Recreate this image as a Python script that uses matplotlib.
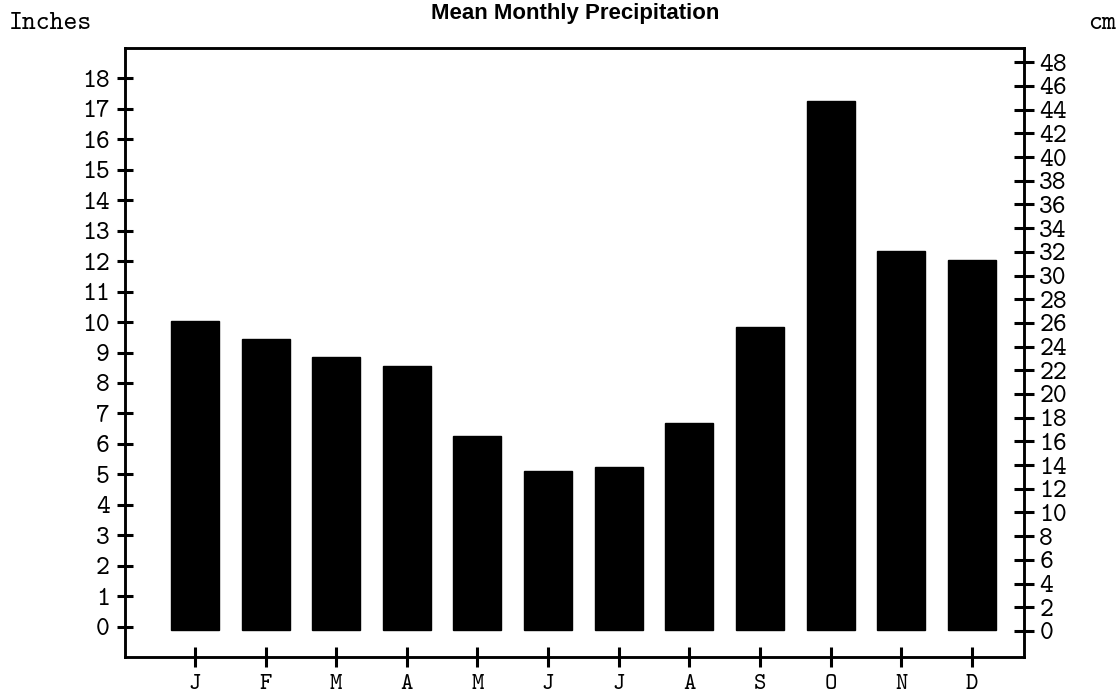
import matplotlib.pyplot as plt
import numpy as np

# monthly precipitation (inches)
months = ['J', 'F', 'M', 'A', 'M', 'J', 'J', 'A', 'S', 'O', 'N', 'D']
precip_in = [10.05, 9.45, 8.85, 8.55, 6.25, 5.1, 5.25, 6.7, 9.85, 17.25, 12.35, 12.05]
inch_ticks = list(range(0, 19))
cm_ticks = list(range(0, 49, 2))

mono = ['cmtt10', 'DejaVu Serif']
base = -0.1  # bars in the scan start just under the zero tick

fig = plt.figure(figsize=(11.17, 6.94), dpi=100)
ax = fig.add_axes([0.1119, 0.0533, 0.8049, 0.8775])

x = np.arange(len(months))
ax.bar(x, np.array(precip_in) - base, width=0.68, bottom=base, color='black', edgecolor='black')

ax.set_xlim(-0.99, 11.74)
ax.set_ylim(-1, 19)
ax.set_xticks(x)
ax.set_xticklabels(months, fontfamily=mono, fontsize=17)
ax.set_yticks(inch_ticks)
ax.set_yticklabels([str(t) for t in inch_ticks], fontfamily=mono, fontsize=19)

for s in ax.spines.values():
    s.set_linewidth(1.8)
ax.tick_params(axis='y', direction='inout', length=12, width=2.2, pad=5)
ax.tick_params(axis='x', direction='inout', length=14, width=2.2, pad=5)

# cm scale on the right
ax2 = ax.twinx()
ax2.set_ylim(-2.2, 49.2)
ax2.set_yticks(cm_ticks)
ax2.set_yticklabels([str(t) for t in cm_ticks], fontfamily=mono, fontsize=19)
ax2.tick_params(axis='y', direction='inout', length=14, width=2.2, pad=4)
for s in ax2.spines.values():
    s.set_linewidth(1.8)

fig.text(0.515, 0.995, 'Mean Monthly Precipitation', ha='center', va='top',
         fontsize=16, fontweight='bold', family='Liberation Sans')
fig.text(0.008, 0.966, 'Inches', ha='left', va='center', fontsize=19, family=mono)
fig.text(0.999, 0.966, 'cm', ha='right', va='center', fontsize=19, family=mono)

fig.savefig('out.png', dpi=100)
